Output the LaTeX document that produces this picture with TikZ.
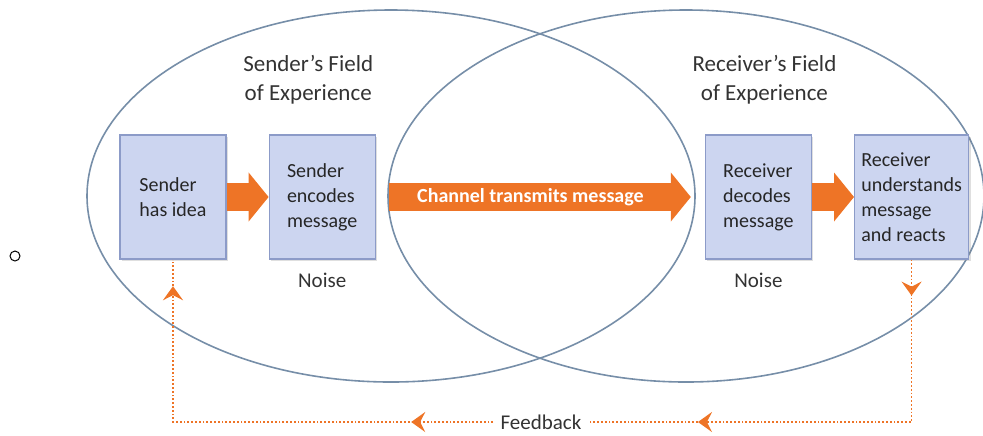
\documentclass[tikz,border=0pt]{standalone}
\usepackage{fontspec}
\setmainfont{Carlito}
\usetikzlibrary{shapes.geometric, arrows.meta, positioning, shadows, decorations.markings}

\definecolor{fieldline}{RGB}{118,142,168}
\definecolor{boxfill}{RGB}{204,213,240}
\definecolor{boxline}{RGB}{140,155,200}
\definecolor{flow}{RGB}{238,116,38}

\tikzstyle{field} = [
    ellipse,
    draw=fieldline,
    line width=0.8pt,
    minimum width=304pt,
    minimum height=186pt,
    inner sep=0pt
]
\tikzstyle{stage} = [
    rectangle,
    minimum width=53pt,
    minimum height=62pt,
    align=left,
    draw=boxline,
    line width=0.6pt,
    fill=boxfill,
    text=black!85,
    font=\fontsize{10}{12.5}\selectfont,
    drop shadow={shadow xshift=1pt, shadow yshift=-1.2pt, opacity=0.25}
]
\tikzstyle{title} = [
    align=center,
    inner sep=0pt,
    font=\fontsize{11.5}{14.5}\selectfont,
    text=black!80
]
\tikzstyle{tag} = [
    inner sep=0pt,
    font=\fontsize{10.5}{12}\selectfont,
    text=black!80
]
\tikzstyle{pipe} = [
    draw=flow,
    line width=14pt,
    -{Triangle[length=10pt, width=24pt]}
]
\tikzstyle{feedback} = [
    draw=flow,
    line width=0.9pt,
    densely dotted
]
\tikzstyle{tipsfirst} = [
    postaction={decorate},
    decoration={markings,
        mark=at position 18pt with {\arrow{Stealth[length=7pt, width=10pt, inset=2.5pt]}},
        mark=at position 188pt with {\arrow{Stealth[length=7pt, width=10pt, inset=2.5pt]}}}
]
\tikzstyle{tipslast} = [
    postaction={decorate},
    decoration={markings,
        mark=at position 41pt with {\arrow{Stealth[length=7pt, width=10pt, inset=2.5pt]}},
        mark=at position 228pt with {\arrow{Stealth[length=7pt, width=10pt, inset=2.5pt]}}}
]

\begin{document}
\begin{tikzpicture}[x=0.5pt, y=-0.5pt]
\useasboundingbox (0,0) rectangle (983,435);

% Fields of experience
\node (senderfield) [field] at (391,196) {};
\node (receiverfield) [field, minimum width=298pt] at (686,196) {};

% Stages
\node (idea) [stage] at (173,197) {Sender\\has idea};
\node (encode) [stage, right=21pt of idea] {Sender\\encodes\\message};
\node (decode) [stage, right=164.5pt of encode] {Receiver\\decodes\\message};
\node (react) [stage, minimum width=55pt, right=21pt of decode] {Receiver\\understands\\message\\and reacts};

% Labels
\node (sendertitle) [title, above=15pt of encode, xshift=-7pt] {Sender’s Field\\of Experience};
\node (receivertitle) [title, above=15pt of decode, xshift=3pt] {Receiver’s Field\\of Experience};
\node (sendernoise) [tag, below=6.5pt of encode] {Noise};
\node (receivernoise) [tag, below=6.5pt of decode] {Noise};
\node (fb) [tag, inner xsep=3.5pt] at (541,422) {Feedback};
\node (bullet) [circle, draw, line width=0.5pt, minimum size=5pt, inner sep=0pt] at (15,256) {};

% Arrows
\draw [pipe] (idea) -- (encode);
\draw [pipe, shorten <=6.5pt, shorten >=7pt] (encode) -- node[pos=0.47, text=white, font=\fontsize{10}{11}\selectfont\bfseries] {Channel transmits message} (decode);
\draw [pipe] (decode) -- (react);

% Feedback loop
\coordinate (fbright) at (react.south |- fb);
\coordinate (fbleft) at (idea.south |- fb);
\draw [feedback, tipsfirst] (react.south) -- (fbright) -- (fb.east);
\draw [feedback, tipslast] (fb.west) -- (fbleft) -- (idea.south);

\end{tikzpicture}
\end{document}
